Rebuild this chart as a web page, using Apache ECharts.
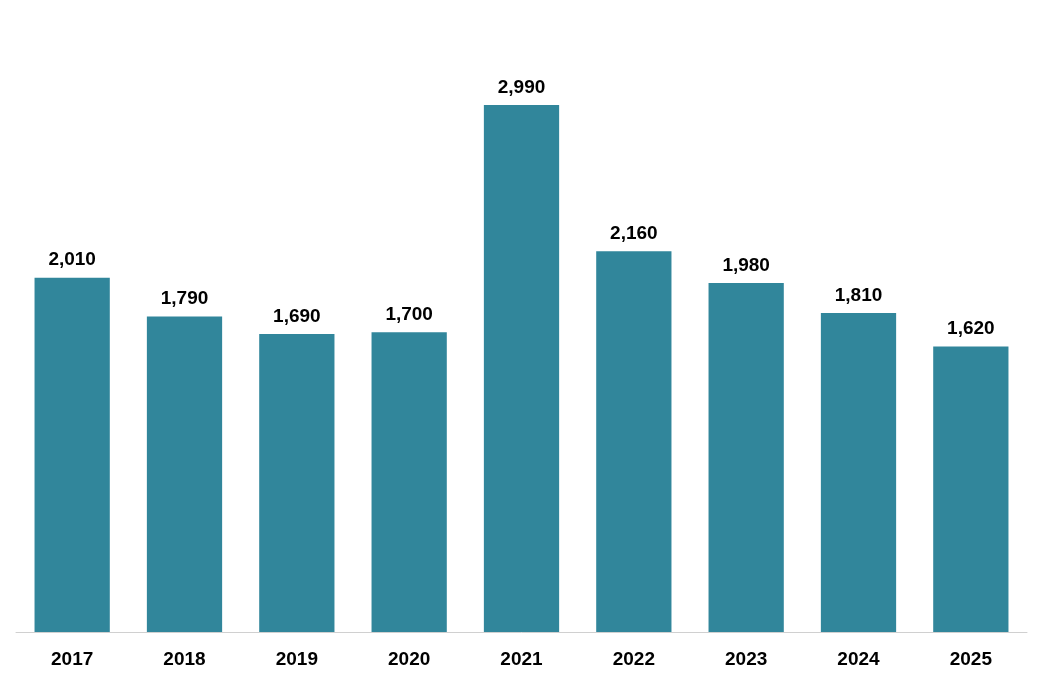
<!DOCTYPE html>
<html>
<head>
<meta charset="utf-8">
<script src="https://cdn.jsdelivr.net/npm/echarts@6/dist/echarts.min.js"></script>
<style>html,body{margin:0;padding:0;background:#fff}#chart{width:1043px;height:681px}</style>
</head>
<body>
<div id="chart"></div>
<script>
var years = ['2017','2018','2019','2020','2021','2022','2023','2024','2025'];
var values = [2010, 1790, 1690, 1700, 2990, 2160, 1980, 1810, 1620];

var myChart = echarts.init(document.getElementById('chart'));
var option = {
	animation: false,
	grid: { left: 16, right: 16, top: 15, bottom: 49 },
	xAxis: {
		type: 'category',
		data: years,
		axisLine: { lineStyle: { color: '#d0d0d0', width: 1 } },
		axisTick: { show: false },
		axisLabel: { color: '#000', fontSize: 19, fontWeight: 'bold', fontFamily: 'Liberation Sans', margin: 18 }
	},
	yAxis: { type: 'value', min: 0, max: 3500, show: false, splitLine: { show: false } },
	series: [{
		type: 'bar',
		data: values,
		barWidth: '67%',
		itemStyle: { color: '#31869b' },
		label: {
			show: true,
			position: 'top',
			distance: 8,
			color: '#000',
			fontSize: 19,
			fontWeight: 'bold',
			fontFamily: 'Liberation Sans',
			formatter: function(p) { return p.value.toLocaleString('en-US'); }
		}
	}]
};
myChart.setOption(option);
</script>
</body>
</html>
